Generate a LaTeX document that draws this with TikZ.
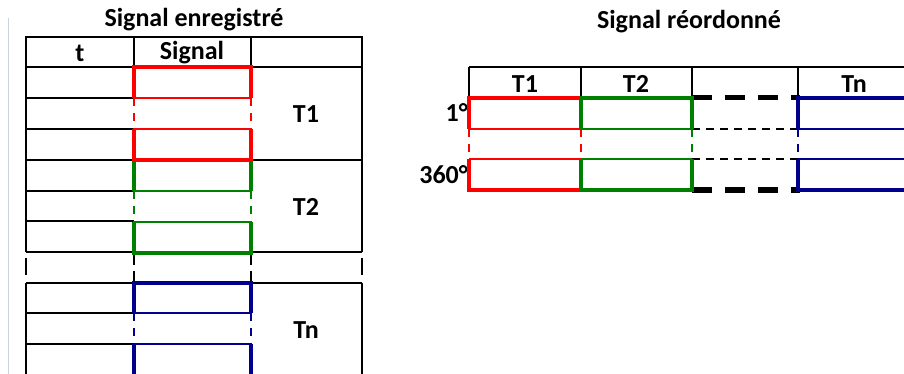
\documentclass[tikz,border=0pt]{standalone}
\usepackage{fontspec}
\setmainfont{Carlito}
\definecolor{myred}{RGB}{255,0,0}
\definecolor{mygreen}{RGB}{0,128,0}
\definecolor{myblue}{RGB}{0,0,140}
\definecolor{edgegrey}{RGB}{200,212,225}
\begin{document}
\begin{tikzpicture}[x=1pt,y=-1pt,
  blk/.style={line width=1.6pt,black},
  thk/.style={line width=4.3pt},
  thn/.style={line width=1.6pt},
  vdash/.style={line width=1.6pt,dash pattern=on 8pt off 7pt},
  bigdash/.style={line width=5pt,black,dash pattern=on 20pt off 13pt},
  smalldash/.style={line width=1.6pt,black,dash pattern=on 8pt off 6pt},
  lbl/.style={font=\fontsize{26}{29}\selectfont\bfseries,inner sep=0pt},
  ]
\useasboundingbox (0,0) rectangle (904,374);
\draw[edgegrey,line width=1pt] (8,18) -- (8,374);

% ---------- left table ----------
\node[lbl] (titleL) at (194,20) {Signal enregistré};
\draw[blk] (26,37) rectangle (362,67);
\draw[blk] (134,37) -- (134,67) (251,37) -- (251,67);
\node[lbl] (ht) at (80,53) {t};
\node[lbl] (hs) at (192,53) {Signal};
\draw[blk] (26,67) -- (26,252) (362,67) -- (362,252);
\draw[blk] (26,98) -- (134,98) (26,129) -- (134,129)
           (26,160) -- (362,160)
           (26,191) -- (134,191) (26,221) -- (134,221)
           (26,252) -- (362,252);
\draw[blk] (251,67) -- (362,67);
% gap
\draw[blk] (26,258) -- (26,275) (362,258) -- (362,275);
\draw[blk,dash pattern=on 10pt off 6pt] (134,255) -- (134,283) (251,255) -- (251,283);
% Tn block
\draw[blk] (26,283) -- (362,283) (26,283) -- (26,376) (362,283) -- (362,376);
\draw[blk] (26,313) -- (134,313) (26,344) -- (134,344);
\node[lbl] (lT1) at (306,114) {T1};
\node[lbl] (lT2) at (306,207) {T2};
\node[lbl] (lTn) at (306,330) {Tn};

% signal column blocks
\foreach \yt/\col in {160/mygreen,67/myred} {
  \draw[\col,thn] (134,\yt+31) -- (251,\yt+31) (134,\yt+62) -- (251,\yt+62);
  \draw[\col,vdash] (134,\yt+31) -- (134,\yt+62) (251,\yt+31) -- (251,\yt+62);
  \draw[\col,thk,line join=miter] (134,\yt+31) -- (134,\yt) -- (251,\yt) -- (251,\yt+31);
  \draw[\col,thk,line join=miter] (134,\yt+62) -- (134,\yt+93) -- (251,\yt+93) -- (251,\yt+62);
}
\draw[myblue,thn] (134,313) -- (251,313) (134,344) -- (251,344);
\draw[myblue,vdash] (134,313) -- (134,344) (251,313) -- (251,344);
\draw[myblue,thk,line join=miter] (134,313) -- (134,283) -- (251,283) -- (251,313);
\draw[myblue,thk] (134,344) -- (134,378) (251,344) -- (251,378);

% ---------- right table ----------
\node[lbl] (titleR) at (689,22) {Signal réordonné};
\draw[blk] (469,67) -- (910,67);
\draw[blk] (469,67) -- (469,98) (581,67) -- (581,98) (692,67) -- (692,98) (798,67) -- (798,98);
\node[lbl] (rT1) at (525,84) {T1};
\node[lbl] (rT2) at (636,84) {T2};
\node[lbl] (rTn) at (854,84) {Tn};
\node[lbl,anchor=east] (deg1) at (468,113) {1°};
\node[lbl,anchor=east] (deg360) at (468,175) {360°};

% black dashed middle part
\draw[bigdash] (692,98) -- (800,98) (692,190) -- (800,190);
\draw[smalldash] (692,129) -- (798,129) (692,159) -- (798,159);

% red T1
\draw[myred,thn] (469,129) -- (581,129) (469,159) -- (581,159);
\draw[myred,vdash] (469,129) -- (469,159) (581,129) -- (581,159);
\draw[myred,thk,line join=miter] (469,129) -- (469,98) -- (581,98);
\draw[myred,thk,line join=miter] (469,159) -- (469,190) -- (581,190);
% green T2
\draw[mygreen,thn] (581,129) -- (692,129) (581,159) -- (692,159);
\draw[mygreen,vdash] (692,129) -- (692,159);
\draw[mygreen,thk,line join=miter] (581,129) -- (581,98) -- (692,98) -- (692,129);
\draw[mygreen,thk,line join=miter] (581,159) -- (581,190) -- (692,190) -- (692,159);
% blue Tn
\draw[myblue,thn] (798,129) -- (910,129) (798,159) -- (910,159);
\draw[myblue,vdash] (798,129) -- (798,159);
\draw[myblue,thk,line join=miter] (798,129) -- (798,98) -- (910,98);
\draw[myblue,thk,line join=miter] (798,159) -- (798,190) -- (910,190);
\end{tikzpicture}
\end{document}
